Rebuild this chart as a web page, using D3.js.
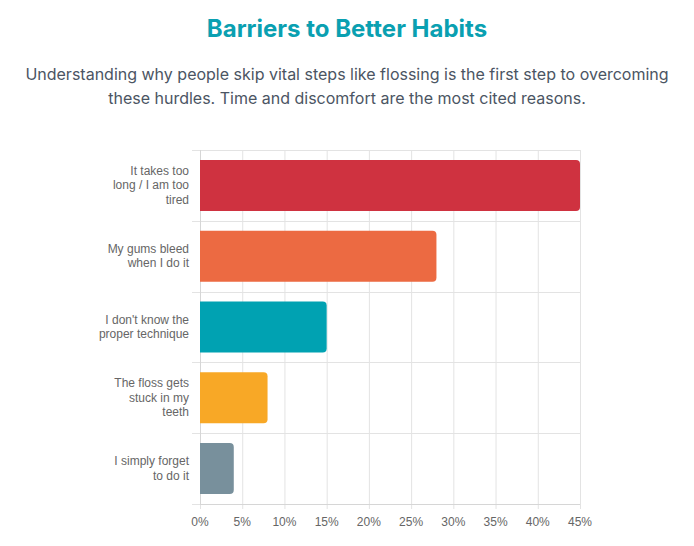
<!DOCTYPE html>
<html>
<head>
<meta charset="utf-8">
<script src="https://cdn.jsdelivr.net/npm/d3@7"></script>
<style>
  body { margin: 0; background: #fff; }
  svg { display: block; }
</style>
</head>
<body>
<div id="chart"></div>
<script>
const categories = [
  ['It takes too', 'long / I am too', 'tired'],
  ['My gums bleed', 'when I do it'],
  ["I don't know the", 'proper technique'],
  ['The floss gets', 'stuck in my', 'teeth'],
  ['I simply forget', 'to do it']
];
const values = [45, 28, 15, 8, 4];
const barColors = ['#cf3240', '#ec6a42', '#00a2b2', '#f8a826', '#78909c'];
const xTicks = [0, 5, 10, 15, 20, 25, 30, 35, 40, 45];

const width = 694, height = 546;
const margin = { top: 150, right: 114, bottom: 42, left: 200 };

const svg = d3.select('#chart').append('svg')
  .attr('width', width)
  .attr('height', height);

// title + subtitle
svg.append('text')
  .attr('x', width / 2).attr('y', 37)
  .attr('text-anchor', 'middle')
  .style('font-family', 'Inter, sans-serif')
  .style('font-weight', 700)
  .style('font-size', '24px')
  .style('fill', '#0aa0b1')
  .text('Barriers to Better Habits');

const sub = [
  'Understanding why people skip vital steps like flossing is the first step to overcoming',
  'these hurdles. Time and discomfort are the most cited reasons.'
];
svg.append('g').selectAll('text').data(sub).join('text')
  .attr('x', width / 2)
  .attr('y', (d, i) => 80 + i * 23.5)
  .attr('text-anchor', 'middle')
  .style('font-family', 'Inter, sans-serif')
  .style('font-size', '16px')
  .style('fill', '#4b5563')
  .text(d => d);

const x = d3.scaleLinear()
  .domain([0, 45])
  .range([margin.left, width - margin.right]);

const y = d3.scaleBand()
  .domain(d3.range(categories.length))
  .range([margin.top, height - margin.bottom]);

const grid = svg.append('g');
// vertical grid lines
grid.selectAll('line.v').data(xTicks).join('line')
  .attr('class', 'v')
  .attr('x1', d => x(d) + 0.5).attr('x2', d => x(d) + 0.5)
  .attr('y1', margin.top).attr('y2', height - margin.bottom + 5)
  .attr('stroke', '#e3e3e3');
// horizontal grid lines (category boundaries)
const hLines = d3.range(categories.length + 1).map(i => margin.top + i * y.step());
grid.selectAll('line.h').data(hLines).join('line')
  .attr('class', 'h')
  .attr('x1', margin.left - 8).attr('x2', x(45))
  .attr('y1', d => Math.round(d) + 0.5).attr('y2', d => Math.round(d) + 0.5)
  .attr('stroke', '#e3e3e3');
// axis lines
svg.append('line')
  .attr('x1', margin.left + 0.5).attr('x2', margin.left + 0.5)
  .attr('y1', margin.top).attr('y2', height - margin.bottom)
  .attr('stroke', '#d6d6d6');
svg.append('line')
  .attr('x1', margin.left).attr('x2', x(45))
  .attr('y1', height - margin.bottom + 0.5).attr('y2', height - margin.bottom + 0.5)
  .attr('stroke', '#d6d6d6');

// bars with rounded right end
const bw = y.step() * 0.72;
const r = 4;
svg.append('g').selectAll('path').data(values).join('path')
  .attr('d', (d, i) => {
    const x0 = x(0), x1 = x(d);
    const y0 = y(i) + (y.step() - bw) / 2, y1 = y0 + bw;
    return `M${x0},${y0}H${x1 - r}Q${x1},${y0} ${x1},${y0 + r}V${y1 - r}Q${x1},${y1} ${x1 - r},${y1}H${x0}Z`;
  })
  .attr('fill', (d, i) => barColors[i]);

// y labels
const lh = 14.5;
const lbl = svg.append('g').selectAll('text').data(categories).join('text')
  .attr('text-anchor', 'end')
  .style('font-family', '"Liberation Sans", Arial, sans-serif')
  .style('font-size', '12px')
  .style('fill', '#666');
lbl.each(function (lines, i) {
  const cy = y(i) + y.step() / 2;
  const startY = cy - (lines.length - 1) * lh / 2 + 4;
  d3.select(this).selectAll('tspan').data(lines).join('tspan')
    .attr('x', margin.left - 11)
    .attr('y', (d, j) => startY + j * lh)
    .text(d => d);
});

// x tick labels
svg.append('g').selectAll('text').data(xTicks).join('text')
  .attr('x', d => x(d))
  .attr('y', height - margin.bottom + 22)
  .attr('text-anchor', 'middle')
  .style('font-family', '"Liberation Sans", Arial, sans-serif')
  .style('font-size', '12px')
  .style('fill', '#666')
  .text(d => d + '%');
</script>
</body>
</html>
